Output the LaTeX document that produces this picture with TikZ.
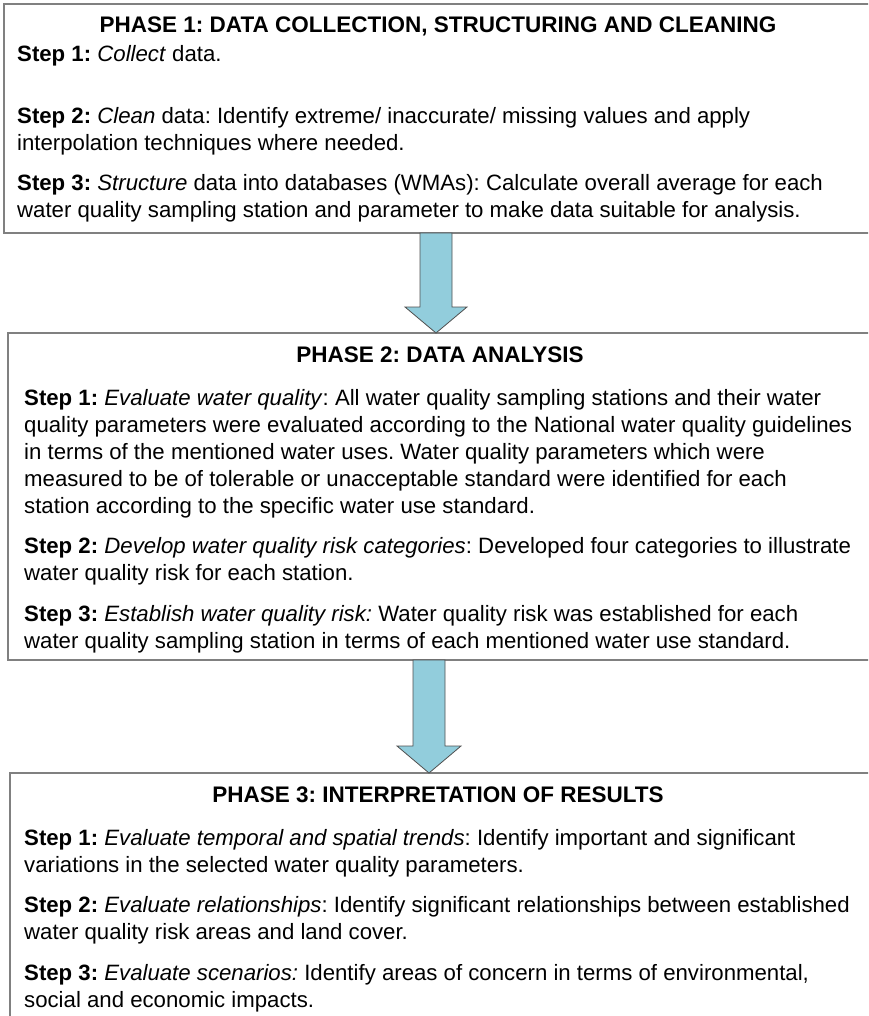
\documentclass[tikz,border=0pt]{standalone}
\usepackage{fontspec}
\setmainfont{Liberation Sans}
\usetikzlibrary{calc}
\definecolor{framegray}{RGB}{128,128,128}
\definecolor{arrowblue}{RGB}{146,205,220}
\definecolor{arrowedge}{RGB}{80,80,80}
% lines of a paragraph, with the baseline of the first line as the reference point
\newcommand\paralines[1]{\begin{tabular}[t]{@{}l@{}}#1\end{tabular}}
\frenchspacing
\begin{document}
\begin{tikzpicture}[x=1pt,y=-1pt,
  phasebox/.style={draw=framegray,line width=1.8pt,fill=white},
  title/.style={font=\fontsize{22.5}{27}\selectfont\bfseries,inner sep=0pt,anchor=base},
  steptext/.style={font=\fontsize{22.2}{27}\selectfont,inner sep=0pt,anchor=base west},
  flowarrow/.style={fill=arrowblue,draw=arrowedge,line width=0.8pt,line join=miter}]
\useasboundingbox (0,0) rectangle (868,1016);
\clip (0,0) rectangle (868,1016);

% phase frames (right and bottom sides run past the page edge)
\draw[phasebox] (4,4) rectangle (875,233);
\coordinate (b1s) at (436,233);
\draw[phasebox] (8,333) rectangle (875,660);
\coordinate (b2n) at (436,333);
\coordinate (b2s) at (429,660);
\draw[phasebox] (10,773) rectangle (875,1030);
\coordinate (b3n) at (429,773);

% block arrows between the phases
\draw[flowarrow] ($(b1s)+(-16,0)$) -- ($(b1s)+(16,0)$) -- ($(b1s)+(16,74)$) -- ($(b1s)+(31,74)$)
  -- (b2n) -- ($(b1s)+(-31,74)$) -- ($(b1s)+(-16,74)$) -- cycle;
\draw[flowarrow] ($(b2s)+(-16,0)$) -- ($(b2s)+(16,0)$) -- ($(b2s)+(16,86)$) -- ($(b2s)+(32,86)$)
  -- (b3n) -- ($(b2s)+(-32,86)$) -- ($(b2s)+(-16,86)$) -- cycle;

% phase 1
\node[title] (t1) at (438,33) {PHASE 1: DATA COLLECTION, STRUCTURING AND CLEANING};
\node[steptext] (p1s1) at (17,62) {\paralines{\textbf{Step 1:} \textit{Collect} data.}};
\node[steptext] (p1s2) at (17,124) {\paralines{\textbf{Step 2:} \textit{Clean} data: Identify extreme/ inaccurate/ missing values and apply\\interpolation techniques where needed.}};
\node[steptext] (p1s3) at (17,191) {\paralines{\textbf{Step 3:} \textit{Structure} data into databases (WMAs): Calculate overall average for each\\water quality sampling station and parameter to make data suitable for analysis.}};

% phase 2
\node[title] (t2) at (440,362) {PHASE 2: DATA ANALYSIS};
\node[steptext] (p2s1) at (24,405) {\paralines{\textbf{Step 1:} \textit{Evaluate water quality}: All water quality sampling stations and their water\\quality parameters were evaluated according to the National water quality guidelines\\in terms of the mentioned water uses. Water quality parameters which were\\measured to be of tolerable or unacceptable standard were identified for each\\station according to the specific water use standard.}};
\node[steptext] (p2s2) at (24,553.5) {\paralines{\textbf{Step 2:} \textit{Develop water quality risk categories}: Developed four categories to illustrate\\water quality risk for each station.}};
\node[steptext] (p2s3) at (24,621) {\paralines{\textbf{Step 3:} \textit{Establish water quality risk:} Water quality risk was established for each\\water quality sampling station in terms of each mentioned water use standard.}};

% phase 3
\node[title] (t3) at (438,802) {PHASE 3: INTERPRETATION OF RESULTS};
\node[steptext] (p3s1) at (24,845) {\paralines{\textbf{Step 1:} \textit{Evaluate temporal and spatial trends}: Identify important and significant\\variations in the selected water quality parameters.}};
\node[steptext] (p3s2) at (24,912) {\paralines{\textbf{Step 2:} \textit{Evaluate relationships}: Identify significant relationships between established\\water quality risk areas and land cover.}};
\node[steptext] (p3s3) at (24,980) {\paralines{\textbf{Step 3:} \textit{Evaluate scenarios:} Identify areas of concern in terms of environmental,\\social and economic impacts.}};
\end{tikzpicture}
\end{document}
